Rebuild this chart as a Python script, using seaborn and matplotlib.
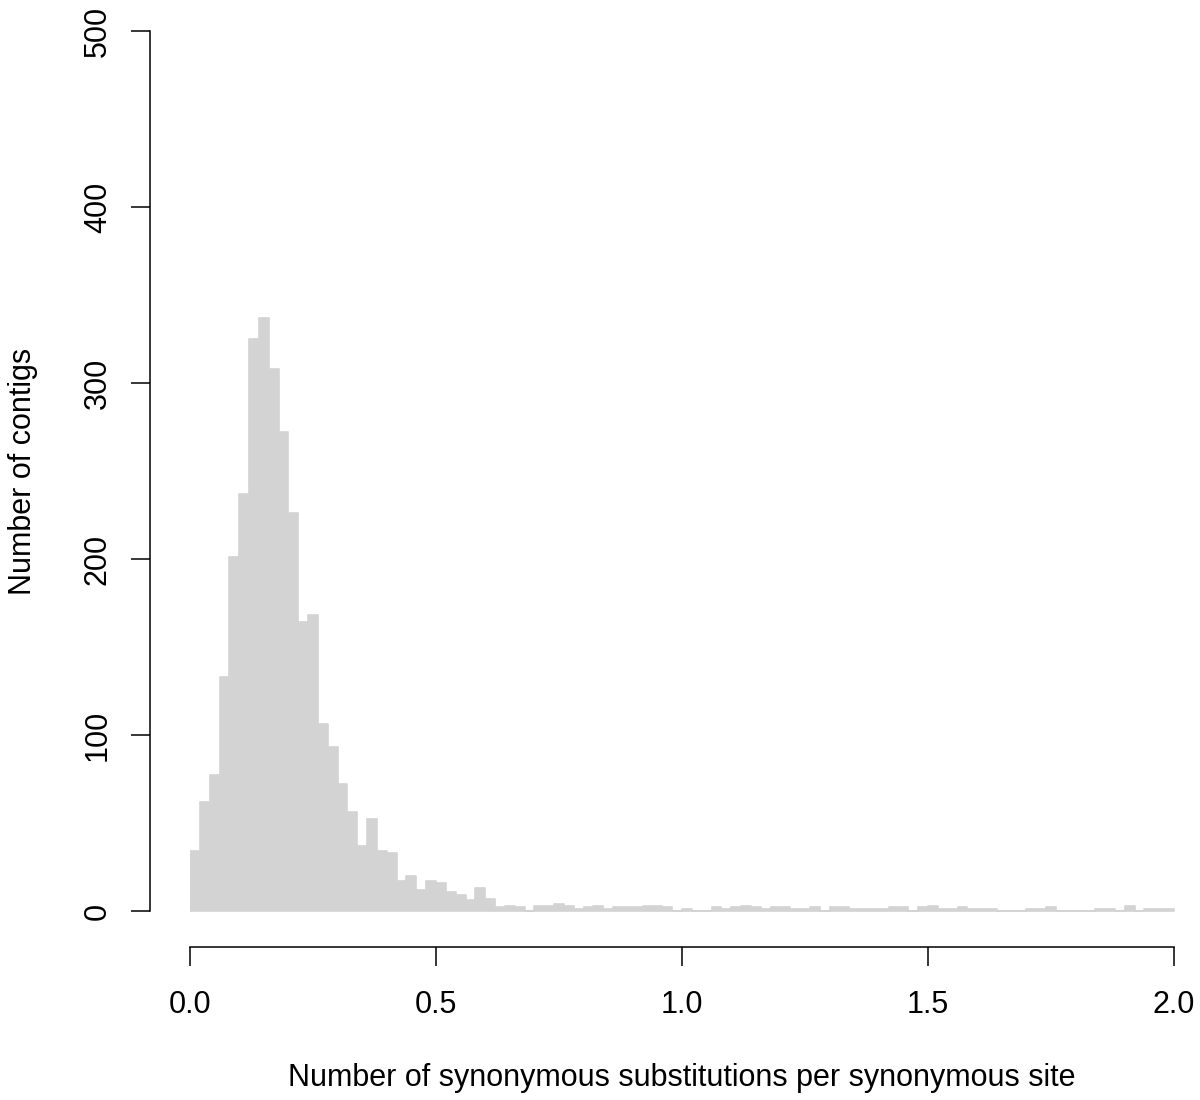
import numpy as np
import pandas as pd
import matplotlib
matplotlib.use("Agg")
import matplotlib.pyplot as plt
import seaborn as sns

# bin counts, bins of width 0.02 from 0 to 2
bin_width = 0.02
counts = [
    34, 62, 77, 133, 201, 237, 325, 337, 308, 272,
    226, 164, 168, 106, 93, 72, 56, 37, 52, 34,
    33, 17, 20, 12, 17, 16, 11, 9, 6, 13,
    7, 2, 3, 2, 0, 3, 3, 4, 3, 1,
    2, 3, 1, 2, 2, 2, 3, 3, 2, 0,
    1, 0, 0, 2, 1, 2, 3, 2, 1, 2,
    2, 1, 1, 2, 0, 2, 2, 1, 1, 1,
    1, 2, 2, 0, 2, 3, 1, 1, 2, 1,
    1, 1, 0, 0, 0, 1, 1, 2, 0, 0,
    0, 0, 1, 1, 0, 3, 0, 1, 1, 1,
]
x_ticks = [0.0, 0.5, 1.0, 1.5, 2.0]
x_tick_labels = ["0.0", "0.5", "1.0", "1.5", "2.0"]
y_ticks = [0, 100, 200, 300, 400, 500]
x_label = "Number of synonymous substitutions per synonymous site"
y_label = "Number of contigs"

n_bins = len(counts)
mids = (np.arange(n_bins) + 0.5) * bin_width
df = pd.DataFrame({"ks": mids, "n": counts})

sns.set_style("ticks")
plt.rcParams["font.family"] = ["Liberation Sans", "DejaVu Sans"]

fig = plt.figure(figsize=(12, 11), dpi=100)
ax = fig.add_axes([190 / 1200, 189 / 1100, 984 / 1200, 880 / 1100])

# step element keeps a thin grey floor under the empty bins, like the original
sns.histplot(data=df, x="ks", weights="n", bins=n_bins,
             binrange=(0, n_bins * bin_width), element="step",
             fill=True, color="#D3D3D3", alpha=1, linewidth=1.2,
             edgecolor="#D3D3D3", ax=ax)

ax.set_xlim(0, 2)
ax.set_ylim(0, 500)
ax.set_xticks(x_ticks)
ax.set_xticklabels(x_tick_labels)
ax.set_yticks(y_ticks)
ax.set_xlabel("")
ax.set_ylabel("")

for side in ["top", "right"]:
    ax.spines[side].set_visible(False)
ax.spines["left"].set_position(("outward", 28.8))
ax.spines["bottom"].set_position(("outward", 25.9))
ax.spines["left"].set_bounds(0, 500)
ax.spines["bottom"].set_bounds(0, 2)
for side in ["left", "bottom"]:
    ax.spines[side].set_linewidth(1.1)
    ax.spines[side].set_color("black")

ax.tick_params(axis="both", length=13.7, width=1.1, labelsize=22, colors="black")
ax.tick_params(axis="x", pad=17)
ax.tick_params(axis="y", pad=13)
for lab in ax.get_yticklabels():
    lab.set_rotation(90)
    lab.set_va("center")

fig.text(682 / 1200, 1 - 1078 / 1100, x_label, ha="center", va="center",
         fontsize=22, color="black")
fig.text(23 / 1200, 1 - 471 / 1100, y_label, ha="center", va="center",
         rotation=90, fontsize=22, color="black")

fig.savefig("out.png", dpi=100, facecolor="white")
plt.close(fig)
